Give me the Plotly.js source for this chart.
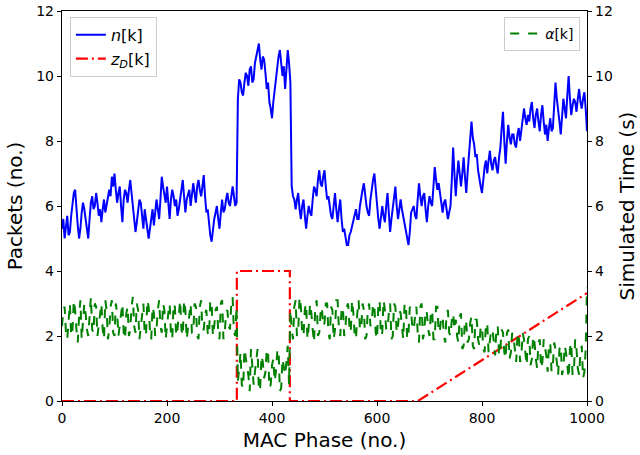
<!DOCTYPE html>
<html>
<head>
<meta charset="utf-8">
<script src="https://cdn.plot.ly/plotly-3.0.1.min.js"></script>
<style>html,body{margin:0;padding:0;background:#fff;}#chart{width:640px;height:455px;}</style>
</head>
<body>
<div id="chart"></div>
<script>
// Sample spacing of the read-off series (MAC phases)
const sampleStep = 5;

// n[k] : packets, read at phases 0,5,...,1000
const nValues = [
  5.3, 5.0, 5.7, 5.2, 6.0, 6.5, 5.4, 5.3, 6.1, 5.6,
  5.0, 6.1, 5.9, 6.4, 5.7, 5.5, 6.2, 6.0, 6.5, 6.9,
  7.0, 6.1, 6.6, 5.5, 6.5, 6.1, 6.8, 6.0, 5.2, 5.8,
  6.1, 5.3, 5.6, 5.0, 5.7, 5.4, 6.2, 5.6, 6.9, 6.3,
  6.6, 5.6, 6.5, 6.0, 5.7, 6.2, 6.8, 5.8, 6.4, 6.0,
  6.7, 6.1, 6.8, 6.3, 6.95, 5.8, 5.4, 4.9, 5.6, 6.0,
  5.3, 6.2, 5.9, 6.4, 6.0, 6.6, 6.0, 9.3, 9.8, 9.4,
  10.1, 9.7, 10.3, 9.9, 10.6, 11.0, 10.2, 10.5, 9.6, 9.2,
  8.7, 9.6, 10.4, 10.8, 10.0, 9.6, 10.8, 9.8, 6.3, 5.9,
  6.4, 5.6, 6.2, 5.3, 6.0, 5.7, 6.6, 6.3, 7.1, 6.6,
  7.1, 6.2, 6.0, 5.6, 6.4, 5.5, 6.2, 5.2, 5.0, 4.8,
  5.2, 5.5, 5.9, 5.6, 6.3, 6.7, 6.0, 5.7, 6.6, 7.0,
  6.1, 5.3, 6.0, 5.5, 6.4, 5.2, 5.9, 6.6, 5.6, 6.2,
  5.7, 5.2, 4.8, 5.8, 6.0, 5.6, 6.7, 6.0, 6.4, 5.5,
  6.3, 6.0, 7.2, 6.5, 6.4, 5.8, 6.2, 5.6, 6.0, 7.8,
  6.3, 7.4, 6.6, 7.5, 6.4, 7.6, 8.6, 7.9, 7.6, 6.8,
  6.4, 7.2, 7.0, 7.7, 7.1, 7.5, 7.0, 7.8, 8.9, 7.3,
  8.5, 7.9, 8.2, 7.8, 8.4, 8.3, 9.0, 8.5, 8.6, 9.2,
  8.4, 9.0, 8.3, 9.1, 8.2, 8.0, 8.7, 8.4, 9.8, 9.0,
  8.2, 9.3, 8.7, 10.0, 8.8, 9.3, 8.9, 9.6, 9.0, 9.5,
  8.3
];
// n[k] read at the in-between phases 2.5, 7.5, ..., 997.5
const nMidValues = [
  5.6, 5.4, 5.1, 5.7, 6.4, 5.8, 5.0, 5.8, 5.9, 5.3,
  5.6, 6.3, 6.0, 6.1, 5.9, 5.9, 5.8, 6.3, 6.3, 6.6,
  6.5, 6.4, 6.0, 6.2, 6.4, 6.5, 6.4, 5.5, 5.5, 6.2,
  5.7, 5.9, 5.4, 5.3, 5.9, 5.9, 5.9, 6.2, 6.6, 6.1,
  6.0, 6.2, 6.3, 6.2, 5.9, 6.6, 6.3, 6.2, 6.5, 6.4,
  6.4, 6.6, 6.5, 6.6, 6.3, 5.9, 5.1, 5.3, 5.8, 5.6,
  5.8, 5.8, 6.2, 6.1, 6.3, 6.3, 6.1, 9.9, 9.5, 9.8,
  10.0, 10.2, 9.8, 10.4, 10.7, 10.5, 10.6, 10.1, 9.8, 9.0,
  9.2, 10.0, 10.6, 10.3, 10.3, 10.2, 10.4, 6.6, 6.2, 6.2,
  5.9, 6.0, 5.7, 5.7, 5.8, 6.2, 6.5, 6.8, 6.7, 6.9,
  6.6, 6.3, 5.7, 6.0, 5.9, 5.9, 5.6, 5.3, 4.8, 5.1,
  5.4, 5.8, 5.6, 6.0, 6.5, 6.3, 5.8, 6.2, 6.8, 6.5,
  5.6, 5.7, 5.7, 6.0, 5.8, 5.6, 6.3, 6.0, 5.9, 5.9,
  5.4, 5.0, 5.2, 5.9, 5.7, 6.2, 6.3, 6.3, 5.9, 6.0,
  6.1, 6.6, 6.8, 6.7, 6.0, 6.1, 5.9, 5.8, 6.8, 7.0,
  6.9, 7.0, 7.0, 6.9, 7.0, 8.2, 8.1, 7.5, 7.1, 6.6,
  6.9, 7.4, 7.4, 7.3, 7.4, 7.2, 7.5, 8.4, 8.0, 8.0,
  8.1, 8.2, 7.9, 8.2, 8.0, 8.7, 8.7, 8.8, 9.0, 8.7,
  8.8, 8.6, 8.8, 8.6, 8.5, 8.4, 8.3, 9.1, 9.3, 8.6,
  8.8, 9.0, 9.4, 9.3, 9.1, 9.2, 9.3, 9.2, 9.3, 9.0
];

// alpha[k] : simulated time (right axis), read at phases 0,5,...,1000
const alphaValues = [
  2.3, 2.9, 1.9, 3.0, 2.2, 2.8, 1.8, 3.1, 2.4, 2.7,
  2.0, 3.2, 2.1, 2.9, 2.3, 3.0, 1.9, 2.8, 2.2, 3.1,
  2.0, 2.7, 2.4, 3.0, 1.9, 2.9, 2.2, 3.2, 2.1, 2.8,
  2.3, 3.0, 2.0, 2.9, 1.9, 2.7, 2.2, 3.1, 2.1, 2.8,
  2.4, 3.0, 1.9, 2.9, 2.2, 3.1, 2.0, 2.8, 2.3, 3.0,
  2.1, 2.9, 1.9, 3.1, 2.2, 2.8, 2.0, 3.0, 2.3, 2.9,
  1.9, 3.1, 2.1, 2.8, 2.2, 3.2, 2.0,
  0.6, 1.5, 0.4, 1.3, 0.8, 1.6, 0.5, 1.2, 0.3, 1.4,
  0.7, 1.6, 0.4, 1.1, 0.6, 1.5, 0.3, 1.3, 0.8, 1.7,
  2.8, 1.9, 3.1, 2.2, 2.9, 2.0, 3.0, 2.3, 2.7, 1.8,
  3.1, 2.1, 2.9, 2.4, 3.0, 1.9, 2.8, 2.2, 3.1, 2.0,
  2.9, 2.3, 3.0, 2.1, 2.7, 1.9, 3.1, 2.2, 2.8, 2.0,
  3.0, 2.4, 2.9, 1.9, 3.1, 2.1, 2.8, 2.2, 3.0, 2.0,
  2.9, 2.3, 2.7, 1.9, 3.0, 2.1, 2.8, 2.2, 2.9, 1.8,
  3.0, 2.1, 2.7, 2.0, 2.8, 1.9, 2.9, 2.2, 2.6, 1.8,
  2.8, 2.0, 2.7,
  2.5, 1.8, 2.7, 1.7, 2.4, 1.9, 2.6, 1.6, 2.5, 1.7,
  2.3, 1.5, 2.4, 1.8, 2.2, 1.4, 2.3, 1.6, 2.1, 1.3,
  2.2, 1.5, 2.0, 1.2, 2.1, 1.4, 1.9, 1.1, 2.0, 1.3,
  1.8, 1.0, 1.9, 1.2, 1.7, 0.9, 1.8, 1.1, 1.6, 0.8,
  1.7, 1.0, 1.5, 0.7, 1.8, 0.9, 1.6, 0.8, 1.7, 0.9,
  3.5
];
// alpha[k] read at the in-between phases 2.5, 7.5, ..., 997.5
const alphaMidValues = [
  2.8, 2.1, 2.6, 2.0, 3.1, 2.2, 2.6, 1.9, 3.0, 2.2,
  2.7, 2.2, 3.0, 2.0, 2.6, 2.2, 3.1, 1.9, 2.9, 2.1,
  3.0, 2.0, 2.8, 2.1, 2.7, 2.0, 2.9, 2.3, 3.0, 1.9,
  2.8, 2.1, 3.1, 2.2, 2.9, 2.0, 2.8, 2.3, 3.0, 1.9,
  2.7, 2.1, 3.0, 2.0, 2.8, 2.2, 3.1, 1.9, 2.7, 2.1,
  3.0, 2.0, 2.9, 2.2, 2.7, 2.1, 3.1, 2.0, 2.8, 2.2,
  3.0, 1.9, 2.7, 2.3, 3.0, 2.1, 2.9, 1.0, 0.5, 1.6,
  1.0, 0.3, 1.1, 0.9, 1.6, 0.4, 1.2, 0.9, 1.5, 0.5,
  1.3, 0.9, 1.6, 0.4, 1.0, 1.2, 0.5, 2.2, 2.9, 2.0,
  3.2, 2.1, 2.8, 1.9, 3.0, 2.2, 2.9, 2.0, 2.7, 2.3,
  3.0, 2.1, 2.9, 1.9, 3.1, 2.2, 2.8, 2.0, 2.9, 2.3,
  3.1, 2.0, 2.7, 2.2, 3.0, 1.9, 2.8, 2.3, 3.0, 2.1,
  2.9, 2.0, 3.1, 2.2, 2.7, 1.9, 3.0, 2.1, 2.8, 2.3,
  3.0, 1.9, 2.9, 2.2, 2.6, 2.1, 2.9, 1.9, 2.8, 2.2,
  2.7, 1.9, 2.9, 2.1, 2.6, 2.0, 2.7, 2.1, 2.5, 2.2,
  2.0, 2.6, 1.6, 2.5, 1.8, 2.4, 1.7, 2.5, 1.9, 2.3,
  1.6, 2.4, 1.5, 2.2, 1.7, 2.3, 1.4, 2.2, 1.5, 2.1,
  1.3, 2.1, 1.6, 2.0, 1.2, 2.1, 1.5, 1.9, 1.1, 2.0,
  1.3, 1.8, 1.0, 1.9, 1.4, 1.7, 0.9, 1.8, 1.2, 1.6,
  0.8, 1.7, 1.1, 1.6, 0.8, 1.9, 1.0, 1.5, 0.7, 1.6
];

// z_D[k] : breakpoints of the piecewise line
const zdPhase = [0, 333, 333, 434, 434, 678, 1000];
const zdValue = [0, 0, 4, 4, 0, 0, 3.32];

// Axis ticks / labels
const xTicks = [0, 200, 400, 600, 800, 1000];
const yTicks = [0, 2, 4, 6, 8, 10, 12];
const xLabel = 'MAC Phase (no.)';
const yLabel = 'Packets (no.)';
const y2Label = 'Simulated Time (s)';

// merge the on-step and in-between readings into one ordered series
function merge(onStep, between) {
  const xs = [], ys = [];
  for (let i = 0; i < onStep.length; i++) {
    xs.push(i * sampleStep); ys.push(onStep[i]);
    if (i < between.length) { xs.push(i * sampleStep + sampleStep / 2); ys.push(between[i]); }
  }
  return {xs, ys};
}
const nSeries = merge(nValues, nMidValues);
const alphaSeries = merge(alphaValues, alphaMidValues);

const FONT = 'DejaVu Sans, Liberation Sans, sans-serif';

const traces = [
  {
    x: nSeries.xs, y: nSeries.ys, type: 'scatter', mode: 'lines',
    name: '<i>n</i>[k]', line: {color: '#0000ff', width: 2},
    legend: 'legend'
  },
  {
    x: zdPhase, y: zdValue, type: 'scatter', mode: 'lines',
    name: '<i>z</i><sub><i>D</i></sub>[k]', line: {color: '#ff0000', width: 2.2, dash: '12px,4px,2px,4px'},
    legend: 'legend'
  },
  {
    x: alphaSeries.xs, y: alphaSeries.ys, type: 'scatter', mode: 'lines', yaxis: 'y2',
    name: '<i>α</i>[k]', line: {color: '#008000', width: 2, dash: 'dash'},
    legend: 'legend2'
  }
];

const axisCommon = {
  showgrid: false, zeroline: false, showline: true, linecolor: '#000', linewidth: 1.2,
  ticks: 'outside', ticklen: 4, tickwidth: 1, tickcolor: '#000',
  tickfont: {family: FONT, size: 14, color: '#000'}
};

const layout = {
  width: 640, height: 455,
  margin: {l: 62, r: 53, t: 11, b: 54},
  paper_bgcolor: '#fff', plot_bgcolor: '#fff',
  font: {family: FONT, color: '#000'},
  showlegend: true,
  xaxis: Object.assign({}, axisCommon, {
    range: [0, 1000], tickvals: xTicks, mirror: true,
    title: {text: xLabel, font: {family: FONT, size: 20}, standoff: 8}
  }),
  yaxis: Object.assign({}, axisCommon, {
    range: [0, 12], tickvals: yTicks,
    title: {text: yLabel, font: {family: FONT, size: 20}, standoff: 8}
  }),
  yaxis2: Object.assign({}, axisCommon, {
    range: [0, 12], tickvals: yTicks, overlaying: 'y', side: 'right',
    title: {text: y2Label, font: {family: FONT, size: 20}, standoff: 8}
  }),
  legend: {
    x: 0.015, y: 0.985, xanchor: 'left', yanchor: 'top',
    bgcolor: 'rgba(255,255,255,0.85)', bordercolor: '#cccccc', borderwidth: 1,
    font: {family: FONT, size: 16}, itemwidth: 30, tracegroupgap: 0
  },
  legend2: {
    x: 0.987, y: 0.985, xanchor: 'right', yanchor: 'top',
    bgcolor: 'rgba(255,255,255,0.85)', bordercolor: '#cccccc', borderwidth: 1,
    font: {family: FONT, size: 14}, itemwidth: 30
  }
};

Plotly.newPlot('chart', traces, layout, {staticPlot: true, displayModeBar: false});
</script>
</body>
</html>
